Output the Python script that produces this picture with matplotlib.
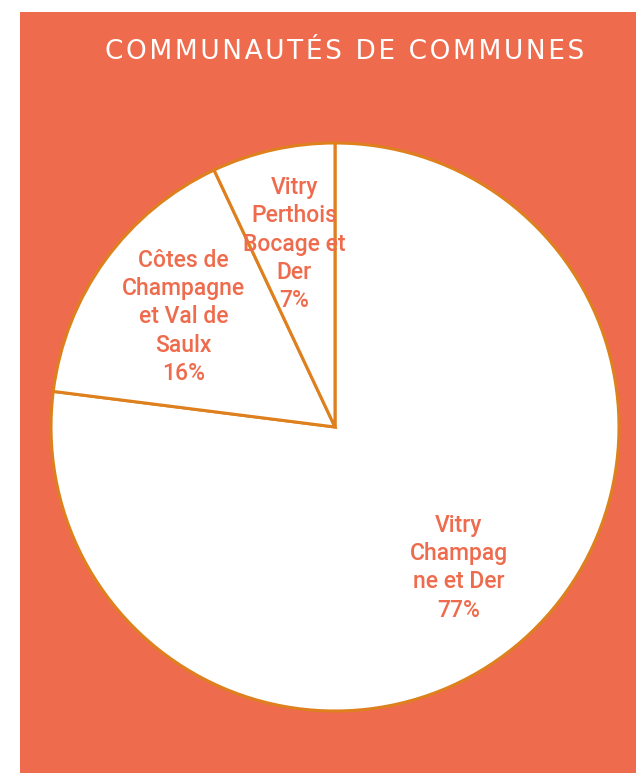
import matplotlib.pyplot as plt
from matplotlib.patches import Rectangle

labels = ['Vitry\nChampag\nne et Der', 'Côtes de\nChampagne\net Val de\nSaulx', 'Vitry\nPerthois\nBocage et\nDer']
values = [77, 16, 7]
title = 'COMMUNAUTÉS DE COMMUNES'

bg = '#EE6C4D'
edge = '#DE801E'

fig = plt.figure(figsize=(6.36, 7.73), dpi=100, facecolor='white')
fig.patches.append(Rectangle((20 / 636, 0), 1 - 20 / 636, (773 - 12) / 773,
                             transform=fig.transFigure, facecolor=bg,
                             edgecolor='none', zorder=-1))

# spread the letters a little with hair spaces
fig.text(345 / 636, 1 - 52 / 773, '\u200a'.join(title),
         color='white', fontsize=19, ha='center', va='center', family='DejaVu Sans')

ax = fig.add_axes([(335 - 284) / 636, (773 - 427 - 284) / 773, 568 / 636, 568 / 773])
ax.set_facecolor('none')
wedges, texts, autotexts = ax.pie(values, startangle=90, counterclock=False,
                                  colors=['white'] * 3, autopct='%d%%', pctdistance=0.66,
                                  wedgeprops={'edgecolor': edge, 'linewidth': 2.2})
for t, lab, v in zip(autotexts, labels, values):
    t.set_text(lab + '\n' + str(v) + '%')
    t.set_color(bg)
    t.set_fontsize(16.5)
    t.set_fontfamily('Roboto')
    t.set_fontweight('medium')
    t.set_linespacing(1.3)
ax.set_xlim(-1.0, 1.0)
ax.set_ylim(-1.0, 1.0)
ax.set_aspect('equal')
ax.axis('off')

fig.savefig('out.png', dpi=100, facecolor='white')
